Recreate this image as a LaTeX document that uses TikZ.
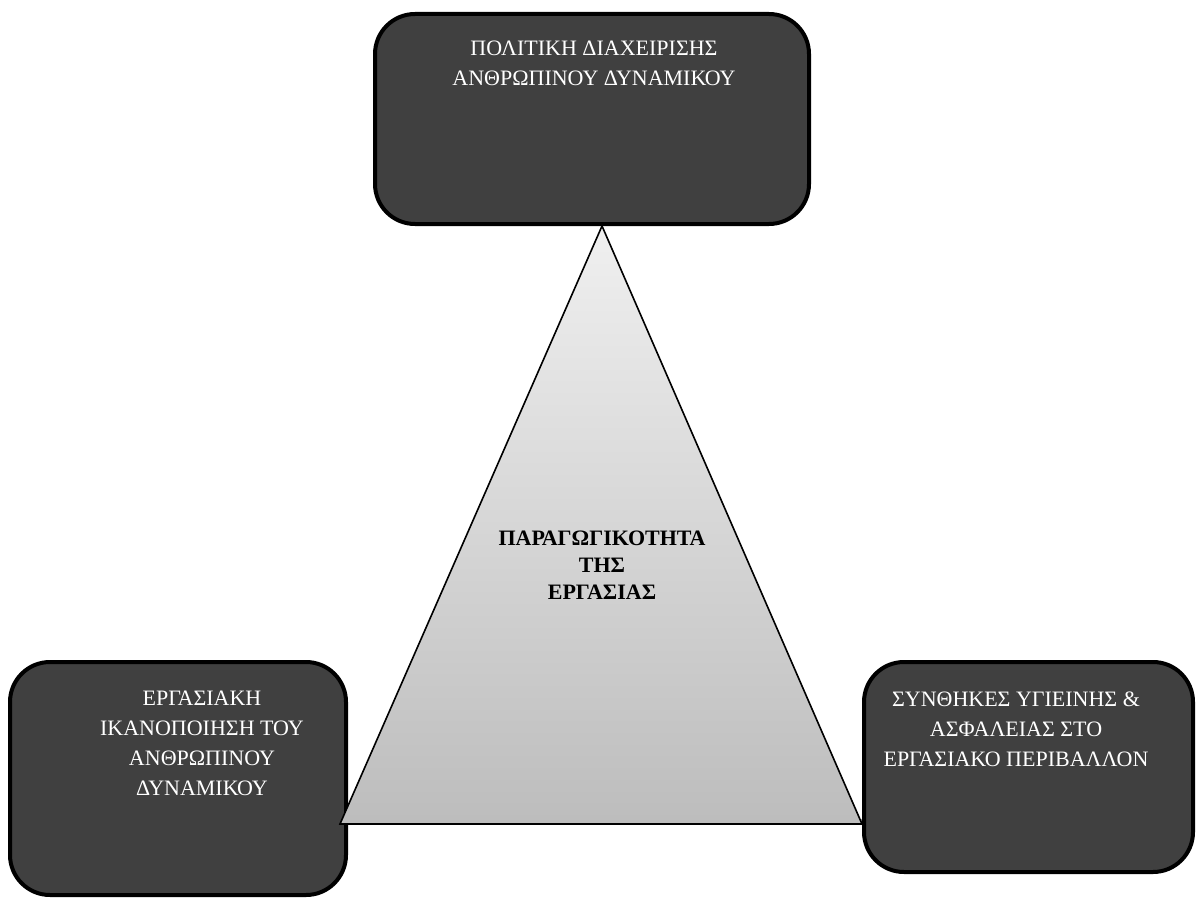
\documentclass[tikz,border=0pt]{standalone}
\usepackage{fontspec}
\setmainfont{Liberation Serif}
\usetikzlibrary{shapes.geometric}
\tikzstyle{factor} = [rectangle, rounded corners=40pt, draw=black, line width=4pt, fill=black!75]
\tikzstyle{factortext} = [text=white, align=center, inner sep=0pt, anchor=north, font=\fontsize{22}{30}\selectfont]
\tikzstyle{goal} = [draw=black, line width=1.6pt, line join=miter, top color=black!6, bottom color=black!26]
\tikzstyle{goaltext} = [align=center, inner sep=0pt, anchor=north, font=\bfseries\fontsize{22}{27}\selectfont]
\tikzstyle{shadowline} = [line width=3.5pt, draw=black!38]

\begin{document}
\begin{tikzpicture}[x=1pt,y=-1pt]
               \useasboundingbox (0,0) rectangle (1196,904);
               \node [factor, minimum width=434pt, minimum height=210pt] at (592,119) (policy) {};
               \node [factor, minimum width=336pt, minimum height=233pt] at (178,778.5) (satisfaction) {};
               \node [factor, minimum width=329pt, minimum height=210pt] at (1028.5,767) (safety) {};
               \node [factortext] at (594,41) (policytext) {ΠΟΛΙΤΙΚΗ ΔΙΑΧΕΙΡΙΣΗΣ\\ΑΝΘΡΩΠΙΝΟΥ ΔΥΝΑΜΙΚΟΥ};
               \node [factortext] at (202,691) (satisfactiontext) {ΕΡΓΑΣΙΑΚΗ\\ΙΚΑΝΟΠΟΙΗΣΗ ΤΟΥ\\ΑΝΘΡΩΠΙΝΟΥ\\ΔΥΝΑΜΙΚΟΥ};
               \node [factortext] at (1016,692) (safetytext) {ΣΥΝΘΗΚΕΣ ΥΓΙΕΙΝΗΣ \&\\ΑΣΦΑΛΕΙΑΣ ΣΤΟ\\ΕΡΓΑΣΙΑΚΟ ΠΕΡΙΒΑΛΛΟΝ};
               \coordinate (apex) at (602,226);
               \coordinate (baseleft) at (340,824);
               \coordinate (baseright) at (862,824);
               \draw [shadowline] ([xshift=3pt,yshift=3.5pt]baseleft) -- ([yshift=3.5pt]baseright);
               \draw [goal] (apex) -- (baseright) -- (baseleft) -- cycle;
               \node [goaltext] at (602,531) (productivity) {ΠΑΡΑΓΩΓΙΚΟΤΗΤΑ\\ΤΗΣ\\ΕΡΓΑΣΙΑΣ};
\end{tikzpicture}
\end{document}
